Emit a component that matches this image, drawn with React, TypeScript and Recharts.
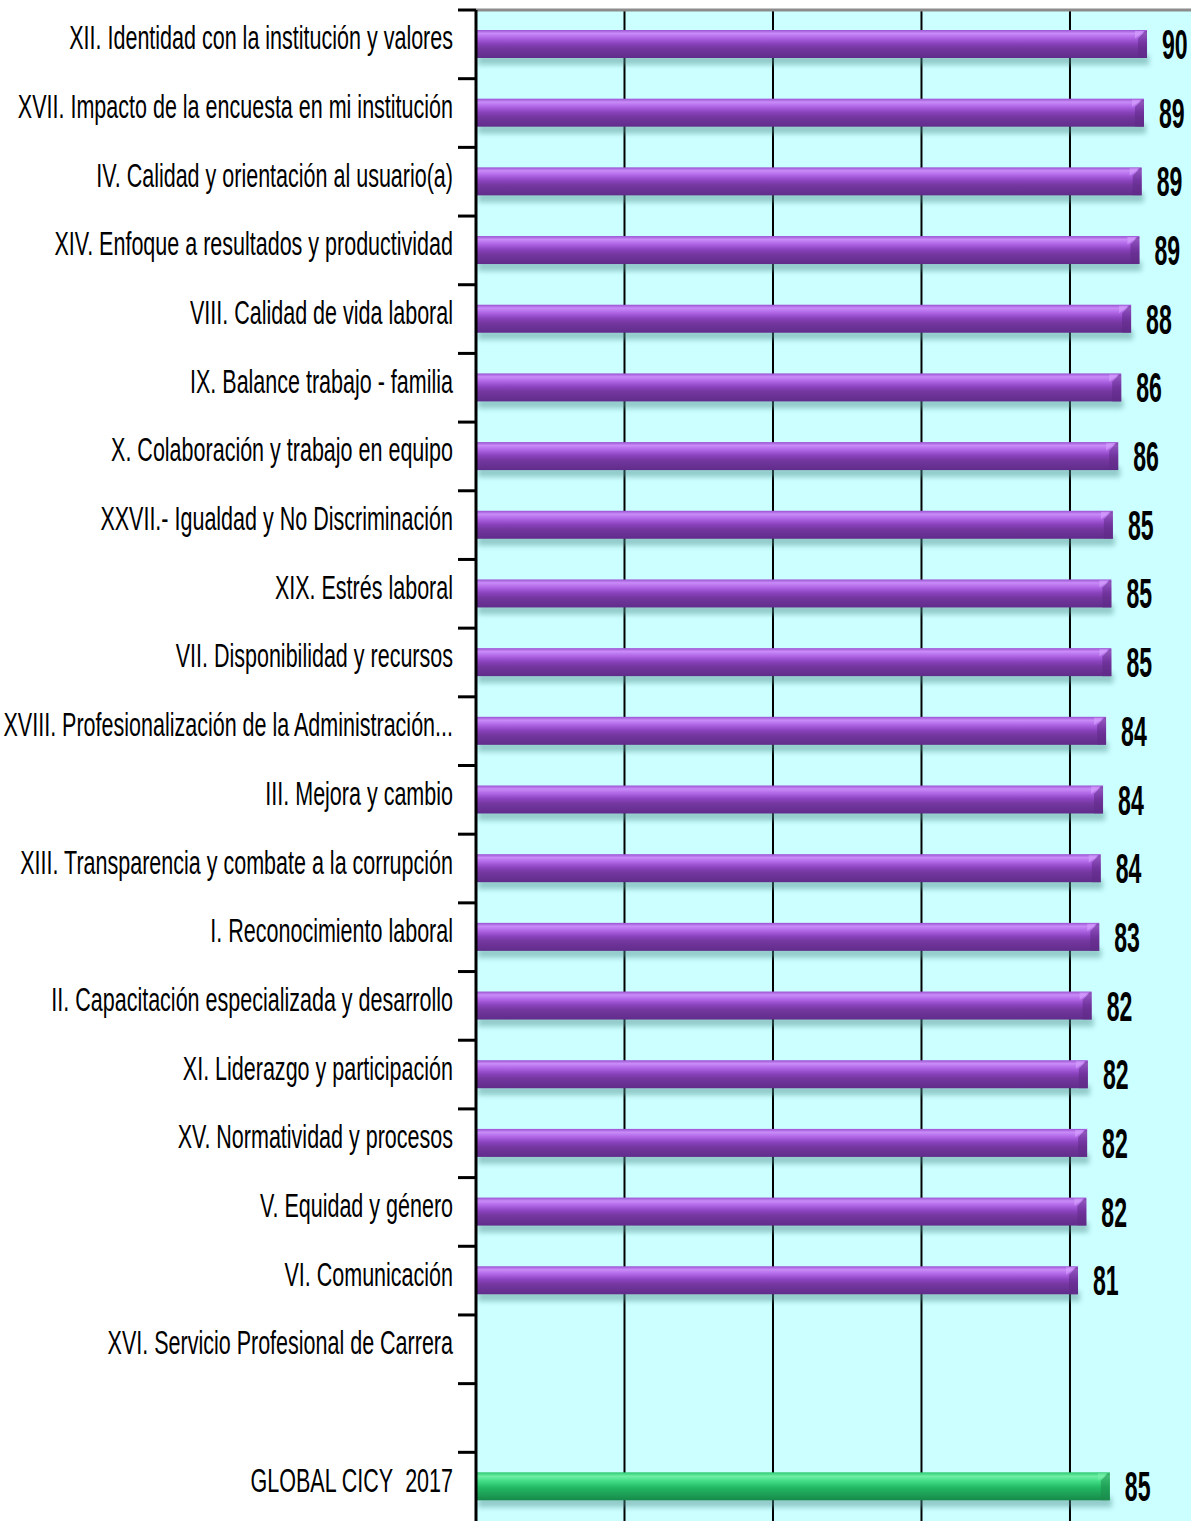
import { BarChart, Bar, XAxis, YAxis, CartesianGrid, LabelList } from "recharts";

const categories = [
  "XII. Identidad con la institución y valores",
  "XVII. Impacto de la encuesta en mi institución",
  "IV. Calidad y orientación al usuario(a)",
  "XIV. Enfoque a resultados y productividad",
  "VIII. Calidad de vida laboral",
  "IX. Balance trabajo - familia",
  "X. Colaboración y trabajo en equipo",
  "XXVII.- Igualdad y No Discriminación",
  "XIX. Estrés laboral",
  "VII. Disponibilidad y recursos",
  "XVIII. Profesionalización de la Administración...",
  "III. Mejora y cambio",
  "XIII. Transparencia y combate a la corrupción",
  "I. Reconocimiento laboral",
  "II. Capacitación especializada y desarrollo",
  "XI. Liderazgo y participación",
  "XV. Normatividad y procesos",
  "V. Equidad y género",
  "VI. Comunicación",
  "XVI. Servicio Profesional de Carrera",
  "",
  "GLOBAL CICY\u00a0\u00a02017",
];

const scores: (number | null)[] = [
  89.7, 89.3, 89.0, 88.7, 87.6, 86.3, 85.9, 85.2, 85.0, 85.0, 84.3, 83.9,
  83.6, 83.4, 82.4, 81.9, 81.8, 81.7, 80.6, null, null, 84.8,
];

const globalRow = categories[categories.length - 1];
// back-wall gridlines (0-100 scale, major unit 20)
const gridTicks = [20, 40, 60, 80];
const GRID_MAX = 96.3;

const WIDTH = 1191;
const HEIGHT = 1521;
const TOP = 10;
const AXIS_W = 476;
const BAND = (HEIGHT - TOP) / categories.length;
const FONT = "'Liberation Sans', Arial, sans-serif";

const chartData = categories.map((name, i) => ({ name, score: scores[i] }));

function CategoryTick(props: any) {
  const { x, y, payload } = props;
  return (
    <g>
      <line x1={x - 18} x2={x} y1={y - BAND / 2} y2={y - BAND / 2} stroke="#000" strokeWidth={3} />
      <text
        transform={`translate(${x - 23},${y + 5}) scale(0.652,1)`}
        textAnchor="end"
        fontSize={33}
        fontFamily={FONT}
        fill="#000"
        style={{ whiteSpace: "pre" }}
      >
        {payload.value}
      </text>
    </g>
  );
}

function BarShape(props: any) {
  const { x, y, width, height, payload } = props;
  if (!width || width <= 0) return null;
  const isGlobal = payload.name === globalRow;
  const fill = isGlobal ? "url(#greenBar)" : "url(#purpleBar)";
  const cap = isGlobal ? "#1d8c4c" : "#5e2a86";
  const capLight = isGlobal ? "#7af0ad" : "#d7a4ff";
  return (
    <g>
      <rect x={x + 2} y={y + height - 3} width={width} height={10} fill="#4d8c8c" opacity={0.45} filter="url(#shadowBlur)" />
      <rect x={x} y={y} width={width} height={height} fill={fill} />
      <polygon
        points={`${x + width - 9},${y + height * 0.3} ${x + width - 2},${y + 1} ${x + width},${y + 1} ${x + width},${y + height} ${x + width - 9},${y + height}`}
        fill={cap}
        opacity={0.55}
      />
      <polygon
        points={`${x + width - 12},${y + height * 0.3} ${x + width - 3},${y + 1} ${x + width - 12},${y + 1}`}
        fill={capLight}
        opacity={0.6}
      />
    </g>
  );
}

function ValueLabel(props: any) {
  const { x, y, width, height, value } = props;
  if (value == null) return null;
  return (
    <text
      transform={`translate(${x + width + 15},${y + height / 2 + 15}) scale(0.55,1)`}
      fontSize={42}
      fontWeight="bold"
      fontFamily={FONT}
      fill="#000"
    >
      {Math.round(value)}
    </text>
  );
}

const gridX = (p: any) => {
  const left = p?.offset?.left ?? AXIS_W;
  const w = p?.offset?.width ?? WIDTH - AXIS_W;
  return gridTicks.map((t) => left + (w * t) / GRID_MAX);
};

export default function App() {
  return (
    <div style={{ position: "absolute", left: 0, top: 0, width: WIDTH, height: HEIGHT, background: "#fff" }}>
      <BarChart
        width={WIDTH}
        height={HEIGHT}
        data={chartData}
        layout="vertical"
        margin={{ top: TOP - 1, right: 0, bottom: 0, left: 0 }}
        barSize={28}
      >
        <defs>
          <linearGradient id="purpleBar" x1="0" y1="0" x2="0" y2="1">
            <stop offset="0%" stopColor="#9a52d2" />
            <stop offset="12%" stopColor="#c98cf8" />
            <stop offset="28%" stopColor="#b066e6" />
            <stop offset="48%" stopColor="#8a42bd" />
            <stop offset="65%" stopColor="#74379f" />
            <stop offset="100%" stopColor="#602c8a" />
          </linearGradient>
          <linearGradient id="greenBar" x1="0" y1="0" x2="0" y2="1">
            <stop offset="0%" stopColor="#2bc86e" />
            <stop offset="14%" stopColor="#6fefa6" />
            <stop offset="32%" stopColor="#3fdc84" />
            <stop offset="55%" stopColor="#22b864" />
            <stop offset="100%" stopColor="#17894a" />
          </linearGradient>
          <filter id="shadowBlur" x="-5%" y="-100%" width="110%" height="300%">
            <feGaussianBlur stdDeviation="2.5" />
          </filter>
        </defs>
        <CartesianGrid
          xAxisId="val"
          horizontal={false}
          stroke="#000"
          strokeWidth={2}
          fill="#ccffff"
          fillOpacity={1}
          verticalCoordinatesGenerator={gridX}
        />
        <XAxis
          xAxisId="val"
          orientation="top"
          type="number"
          domain={[1.2, 95.5]}
          allowDataOverflow
          tick={false}
          tickLine={false}
          height={1}
          axisLine={{ stroke: "#8c8c8c", strokeWidth: 3 }}
        />
        <YAxis
          type="category"
          dataKey="name"
          width={AXIS_W}
          interval={0}
          tickSize={0}
          tickMargin={0}
          tickLine={false}
          axisLine={{ stroke: "#000", strokeWidth: 3 }}
          tick={<CategoryTick />}
        />
        <Bar xAxisId="val" dataKey="score" shape={<BarShape />} isAnimationActive={false}>
          <LabelList dataKey="score" content={<ValueLabel />} />
        </Bar>
      </BarChart>
    </div>
  );
}
